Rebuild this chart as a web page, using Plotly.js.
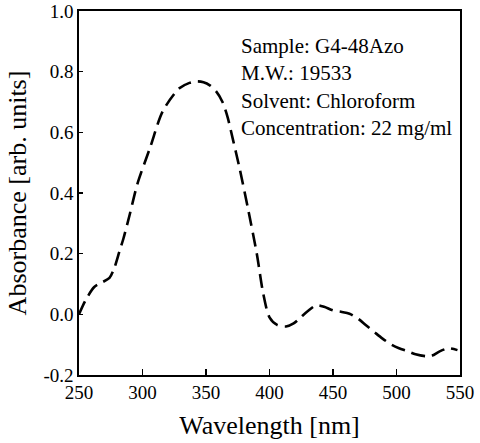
<!DOCTYPE html>
<html>
<head>
<meta charset="utf-8">
<script src="https://cdn.plot.ly/plotly-3.0.1.min.js"></script>
<style>html,body{margin:0;padding:0;background:#fff;}#chart{width:480px;height:443px;}</style>
</head>
<body>
<div id="chart"></div>
<script>
const wavelength = [250, 255, 262, 268, 274, 278, 282, 285, 290, 296, 306, 316, 329, 337, 343, 348, 353, 358, 363, 367, 371, 376, 383, 390, 395, 400, 406, 413, 419, 424, 430, 437, 443, 450, 457, 463, 470, 476, 483, 489, 496, 502, 509, 515, 523, 528, 534, 541, 548];
const absorbance = [0.0, 0.045, 0.09, 0.105, 0.12, 0.155, 0.21, 0.25, 0.33, 0.43, 0.55, 0.67, 0.745, 0.763, 0.768, 0.765, 0.755, 0.735, 0.70, 0.65, 0.58, 0.49, 0.35, 0.20, 0.07, -0.01, -0.035, -0.04, -0.03, -0.012, 0.01, 0.03, 0.025, 0.013, 0.008, 0.002, -0.015, -0.036, -0.06, -0.08, -0.1, -0.112, -0.122, -0.132, -0.138, -0.136, -0.122, -0.112, -0.118];
const xTicks = [250, 300, 350, 400, 450, 500, 550];
const yTicks = [-0.2, 0.0, 0.2, 0.4, 0.6, 0.8, 1.0];
const yTickLabels = ["-0.2", "0.0", "0.2", "0.4", "0.6", "0.8", "1.0"];
const infoLines = ["Sample: G4-48Azo", "M.W.: 19533", "Solvent: Chloroform", "Concentration: 22 mg/ml"];

const serif = "'Liberation Serif', serif";
const trace = {
  x: wavelength, y: absorbance, type: "scatter", mode: "lines",
  line: {color: "#000", width: 2.6, dash: "14px,7px", shape: "spline", smoothing: 0.8},
  hoverinfo: "skip"
};
const layout = {
  width: 480, height: 443,
  margin: {l: 79, r: 20, t: 11, b: 68},
  paper_bgcolor: "#fff", plot_bgcolor: "#fff",
  showlegend: false,
  font: {family: serif, color: "#000", size: 18},
  xaxis: {
    range: [250, 550], tickvals: xTicks, ticktext: xTicks.map(String),
    ticks: "inside", ticklen: 6, tickwidth: 1.3, tickcolor: "#000",
    showline: true, linecolor: "#000", linewidth: 1.6, mirror: true,
    showgrid: false, zeroline: false,
    tickfont: {family: serif, size: 19, color: "#000"},
    title: {text: "Wavelength [nm]", font: {family: serif, size: 26, color: "#000"}, standoff: 13}
  },
  yaxis: {
    range: [-0.2, 1.0], tickvals: yTicks, ticktext: yTickLabels,
    ticks: "inside", ticklen: 4, tickwidth: 1.3, tickcolor: "#000",
    showline: true, linecolor: "#000", linewidth: 1.6, mirror: true,
    showgrid: false, zeroline: false,
    tickfont: {family: serif, size: 19, color: "#000"},
    title: {text: "Absorbance [arb. units]", font: {family: serif, size: 26, color: "#000"}, standoff: 9}
  },
  annotations: [{
    xref: "paper", yref: "paper", x: 0.42, y: 0.942,
    xanchor: "left", yanchor: "top", align: "left", showarrow: false,
    text: infoLines.join("<br>"),
    font: {family: serif, size: 21, color: "#000"}
  }]
};
Plotly.newPlot("chart", [trace], layout, {staticPlot: true, displayModeBar: false});
</script>
</body>
</html>
